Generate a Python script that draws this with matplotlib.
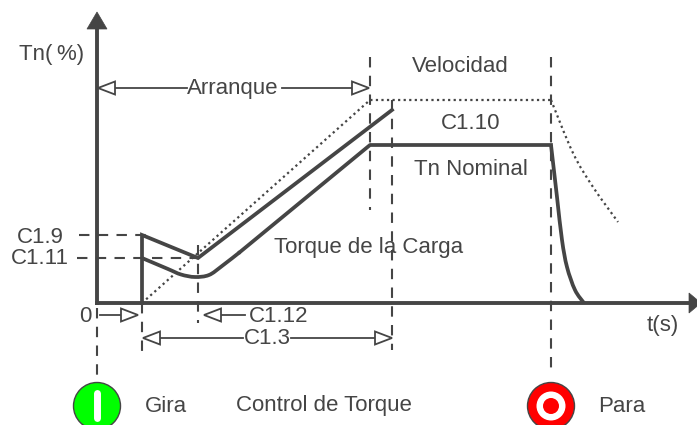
import matplotlib
matplotlib.use("Agg")
import matplotlib.pyplot as plt
from matplotlib.patches import Polygon, Circle, PathPatch
from matplotlib.path import Path

plt.rcParams['font.family'] = ['Liberation Sans', 'DejaVu Sans']
DARK = '#454545'
TXT = '#454545'

# Traces (diagram coordinates: x right, y down)
speed_line_x = [142, 370, 551]
speed_line_y = [303, 100, 100]
speed_fall = [(551, 100), (573, 153), (593, 187), (618, 222)]
upper_x = [142, 142, 198, 392]
upper_y = [303, 235, 258, 110]
lower_curve = [(142, 258), (168, 269), (181, 274.5), (195, 277), (209, 275), (222, 266), (240, 252)]
lower_line_x = [240, 370, 551]
lower_line_y = [252, 145, 145]
decay = [(551, 145), (557, 197), (562, 240), (567, 267), (575, 290), (584, 303)]

# Guides: (x, y0, y1)
v_guides = [(97, 308, 382), (142, 303, 352), (198, 245, 323), (370, 57, 210),
            (392, 100, 350), (551, 57, 372)]
h_guides = [(79, 150, 235), (77, 207, 258)]
# Dimension arrows: (tip x, tail x, y)
dims = [(98, 187, 88), (369, 282, 88), (138, 100, 315), (204, 245, 315),
        (143, 243, 338), (392, 291, 338)]
labels = [
    ("Tn(\u2009%)", 52, 54), ("Arranque", 233, 88), ("Velocidad", 460, 66), ("C1.10", 471, 123),
    ("Tn Nominal", 471, 169), ("Torque de la Carga", 369, 247), ("C1.9", 40, 237),
    ("C1.11", 40, 259), ("0", 85, 317), ("C1.12", 279, 316), ("C1.3", 267, 339),
    ("t(s)", 663, 326), ("Gira", 166, 407), ("Control de Torque", 324, 405), ("Para", 622, 407),
]

fig = plt.figure(figsize=(6.97, 4.25), dpi=100)
ax = fig.add_axes([0, 0, 1, 1])
ax.set_xlim(0, 697)
ax.set_ylim(425, 0)
ax.axis('off')

# guides
for x, y0, y1 in v_guides:
    ax.plot([x, x], [y0, y1], color=DARK, lw=1.5, dashes=(5, 4), zorder=2)
for x0, x1, y in h_guides:
    ax.plot([x0, x1], [y, y], color=DARK, lw=1.5, dashes=(5, 4), zorder=2)

# axes
ax.plot([97, 97], [305, 28], color=DARK, lw=2.8, solid_capstyle='butt', zorder=3)
ax.plot([95, 690], [303, 303], color=DARK, lw=2.8, solid_capstyle='butt', zorder=3)
ax.add_patch(Polygon([(97, 12), (107, 29), (87, 29)], closed=True, fc=DARK, ec=DARK, lw=0.5, zorder=3))
ax.add_patch(Polygon([(701, 303), (689, 293), (689, 313)], closed=True, fc=DARK, ec=DARK, lw=0.5, zorder=3))


def smooth(pts):
    """Catmull-Rom curve through the points."""
    p = [pts[0]] + list(pts) + [pts[-1]]
    verts = [pts[0]]
    codes = [Path.MOVETO]
    for i in range(1, len(p) - 2):
        c1 = (p[i][0] + (p[i + 1][0] - p[i - 1][0]) / 6, p[i][1] + (p[i + 1][1] - p[i - 1][1]) / 6)
        c2 = (p[i + 1][0] - (p[i + 2][0] - p[i][0]) / 6, p[i + 1][1] - (p[i + 2][1] - p[i][1]) / 6)
        verts += [c1, c2, p[i + 1]]
        codes += [Path.CURVE4] * 3
    return Path(verts, codes)


# traces
ax.plot(speed_line_x, speed_line_y, color=DARK, lw=1.6, dashes=(1, 1.5), zorder=4)
ax.add_patch(PathPatch(smooth(speed_fall), fc='none', ec=DARK, lw=1.6, ls=(0, (1, 1.5)), zorder=4))
ax.plot(upper_x, upper_y, color=DARK, lw=2.7, solid_joinstyle='miter', zorder=5)
ax.plot(lower_line_x, lower_line_y, color=DARK, lw=2.7, solid_joinstyle='round', zorder=5)
ax.add_patch(PathPatch(smooth(lower_curve), fc='none', ec=DARK, lw=2.7, zorder=5))
ax.add_patch(PathPatch(smooth(decay), fc='none', ec=DARK, lw=2.7, zorder=5))

# dimension arrows
for tip, tail, y in dims:
    d = 1 if tail > tip else -1
    ax.plot([tip + d * 16, tail], [y, y], color=DARK, lw=1.3, zorder=4)
    ax.add_patch(Polygon([(tip, y), (tip + d * 17, y - 6.5), (tip + d * 17, y + 6.5)], closed=True,
                         fc='white', ec=DARK, lw=1.3, zorder=6))

# buttons
ax.add_patch(Circle((97, 406), 23.5, fc='#00ff00', ec=DARK, lw=1.0, zorder=6))
ax.plot([97, 97], [393, 418], color='white', lw=5, solid_capstyle='round', zorder=7)
ax.add_patch(Circle((551, 406), 23.5, fc='#ff0000', ec=DARK, lw=1.0, zorder=6))
ax.add_patch(Circle((551, 406), 14.5, fc='white', ec='none', zorder=7))
ax.add_patch(Circle((551, 406), 8, fc='#ff0000', ec='none', zorder=8))

for s, x, y in labels:
    ax.text(x, y, s, fontsize=16, color=TXT, ha='center', va='center', zorder=9)

fig.savefig('out.png', dpi=100)
